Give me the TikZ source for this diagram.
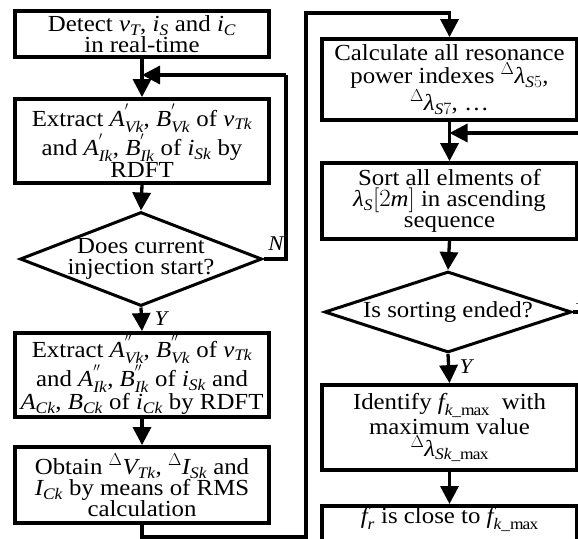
\documentclass[tikz,border=0pt]{standalone}
\usepackage{amsmath}
\usepackage{fontspec}
\setmainfont{Liberation Serif}[FakeStretch=1.08]
\usetikzlibrary{arrows.meta,shapes.geometric,calc}
\newcommand\ti[1]{\textit{#1}}
\begin{document}
\begin{tikzpicture}[x=1pt,y=-1pt,
  box/.style={draw,line width=3.8pt,rectangle,inner sep=0pt,align=center,
    font=\fontsize{23}{21}\selectfont},
  dia/.style={draw,line width=3pt,diamond,inner sep=0pt},
  dtext/.style={align=center,font=\fontsize{23}{21.5}\selectfont,inner sep=0pt},
  arr/.style={line width=3.3pt,-{Triangle[length=18pt,width=18pt]}},
  ln/.style={line width=3.3pt},
  lab/.style={font=\fontsize{21}{21}\selectfont\itshape,inner sep=0pt}]
\useasboundingbox (0,0) rectangle (578,538);
% left column
\node[box,minimum width=254pt,minimum height=46pt] (b1) at (142,34)
  {Detect $\ti{v}_{\ti{T}}$, $\ti{i}_{\ti{S}}$ and $\ti{i}_{\ti{C}}$\\ in real-time};
\node[box,minimum width=254pt,minimum height=84pt] (b2) at (142,141)
  {Extract $\ti{A}^{'}_{\ti{Vk}}$, $\ti{B}^{'}_{\ti{Vk}}$ of $\ti{v}_{\ti{Tk}}$\\
   and $\ti{A}^{'}_{\ti{Ik}}$, $\ti{B}^{'}_{\ti{Ik}}$ of $\ti{i}_{\ti{Sk}}$ by\\ RDFT};
\node[dia,minimum width=242pt,minimum height=94pt] (d1) at (141,259) {};
\node[dtext] (d1t) at (d1) {Does current\\ injection start?};
\node[box,minimum width=254pt,minimum height=84pt] (b3) at (142,375)
  {Extract $\ti{A}^{''}_{\ti{Vk}}$, $\ti{B}^{''}_{\ti{Vk}}$ of $\ti{v}_{\ti{Tk}}$\\
   and $\ti{A}^{''}_{\ti{Ik}}$, $\ti{B}^{''}_{\ti{Ik}}$ of $\ti{i}_{\ti{Sk}}$ and\\
   $\ti{A}_{\ti{Ck}}$, $\ti{B}_{\ti{Ck}}$ of $\ti{i}_{\ti{Ck}}$ by RDFT};
\node[box,minimum width=254pt,minimum height=76pt] (b4) at (142,485)
  {Obtain $^{\Delta}\ti{V}_{\ti{Tk}}$, $^{\Delta}\ti{I}_{\ti{Sk}}$ and\\
   $\ti{I}_{\ti{Ck}}$ by means of RMS\\ calculation};
% right column
\node[box,minimum width=255pt,minimum height=81pt] (b5) at (449.5,79.5)
  {Calculate all resonance\\[1pt] power indexes $^{\Delta}\ti{λ}_{\ti{S}5}$,\\ $^{\Delta}\ti{λ}_{\ti{S}7}$, \dots};
\node[box,minimum width=255pt,minimum height=76pt] (b6) at (449.5,201)
  {Sort all elments of\\ $\ti{λ}_{\ti{S}}[2\ti{m}]$ in ascending\\ sequence};
\node[dia,minimum width=247pt,minimum height=81pt] (d2) at (448,312) {};
\node[dtext] (d2t) at (d2) {Is sorting ended?};
\node[box,minimum width=255pt,minimum height=85pt] (b7) at (449.5,427.5)
  {Identify $\ti{f}_{\ti{k}\_\mathrm{max}}$\ \ with\\ maximum value\\ $^{\Delta}\ti{λ}_{\ti{Sk}\_\mathrm{max}}$};
\node[box,minimum width=255pt,minimum height=44pt,anchor=north] (b8) at (449.5,504)
  {$\ti{f}_{\ti{r}}$ is close to $\ti{f}_{\ti{k}\_\mathrm{max}}$\\[4pt]};
% coordinates
\coordinate (lp) at (286,75);
\coordinate (c1) at (306,537);
\coordinate (c2) at (306,13);
\coordinate (rp) at (592,133);
% connectors
\draw[arr] (b1.south) -- (b2.north);
\draw[ln] (d1.east) -| (lp);
\draw[arr] (lp) -- (b1.south |- lp);
\draw[arr] (b2.south) -- (d1.north);
\draw[arr] (d1.south) -- (b3.north);
\draw[arr] (b3.south) -- (b4.north);
\draw[arr] (b4.south) |- (c1) -- (c2) -| (b5.north);
\draw[arr] (b5.south) -- (b6.north);
\draw[ln] (d2.east) -| (rp);
\draw[arr] (rp) -- (b6.north |- rp);
\draw[arr] (b6.south) -- (d2.north);
\draw[arr] (d2.south) -- (b7.north);
\draw[arr] (b7.south) -- (b8.north);
% labels
\node[lab] (ln1) at (276,244) {N};
\node[lab] (ly1) at (161,319) {Y};
\node[lab] (ly2) at (466,367) {Y};
\node[lab] (ln2) at (584,298) {N};
\end{tikzpicture}
\end{document}
